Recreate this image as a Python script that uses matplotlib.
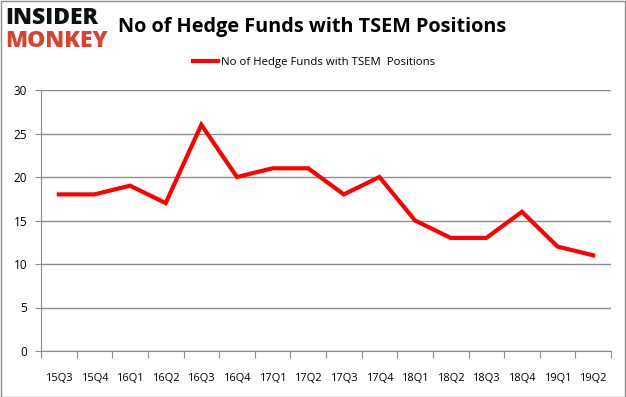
import matplotlib
matplotlib.use("Agg")
import matplotlib.pyplot as plt
import numpy as np

categories = ["15Q3","15Q4","16Q1","16Q2","16Q3","16Q4","17Q1","17Q2","17Q3","17Q4",
              "18Q1","18Q2","18Q3","18Q4","19Q1","19Q2"]
values = [18, 18, 19, 17, 26, 20, 21, 21, 18, 20, 15, 13, 13, 16, 12, 11]
yticks = [0, 5, 10, 15, 20, 25, 30]
series_name = "No of Hedge Funds with TSEM  Positions"
title = "No of Hedge Funds with TSEM Positions"

plt.rcParams['font.family'] = ['Open Sans', 'DejaVu Sans']

W, H = 626, 397
fig = plt.figure(figsize=(W/100, H/100), dpi=100)
ax = fig.add_axes([41/W, 1-351/H, (611-41)/W, (351-90)/H])

x = np.arange(len(categories))
ax.plot(x, values, color='#FF0000', lw=3, label=series_name, solid_joinstyle='miter')

ax.set_xlim(-0.5, len(categories)-0.5)
ax.set_ylim(0, 30)
ax.set_yticks(yticks)
ax.set_yticklabels([str(v) for v in yticks], fontsize=8.5)
ax.yaxis.grid(True, color='#8c8c8c', lw=1)
ax.set_axisbelow(True)
ax.tick_params(axis='y', length=4, color='#8c8c8c', pad=6)

ax.set_xticks(np.arange(-0.5, len(categories), 1.0))
ax.set_xticklabels([])
ax.set_xticks(x, minor=True)
ax.set_xticklabels(categories, minor=True, fontsize=8)
ax.tick_params(axis='x', which='major', length=5, color='#8c8c8c')
ax.tick_params(axis='x', which='minor', length=0, pad=16)

for s in ['top', 'right']:
    ax.spines[s].set_visible(False)
for s in ['left', 'bottom']:
    ax.spines[s].set_color('#8c8c8c')

ax.legend(loc='center', bbox_to_anchor=(314/W, 1-62/H), bbox_transform=fig.transFigure,
          frameon=False, fontsize=8.2, handlelength=2.2, handletextpad=0.3)

fig.text(312/W, 1-27/H, title, ha='center', va='center', fontsize=14.3, fontweight='bold')
fig.text(5/W, 1-18/H, "INSIDER", ha='left', va='center', fontsize=16.5, fontweight='black', color='#111111')
fig.text(5/W, 1-41/H, "MONKEY", ha='left', va='center', fontsize=16.5, fontweight='black', color='#D9432F')

border = plt.Rectangle((0.5/W, 0.5/H), 1-1.5/W, 1-1.5/H, transform=fig.transFigure,
                       fill=False, edgecolor='#8c8c8c', lw=1)
fig.patches.append(border)

fig.savefig("out.png", dpi=100)
